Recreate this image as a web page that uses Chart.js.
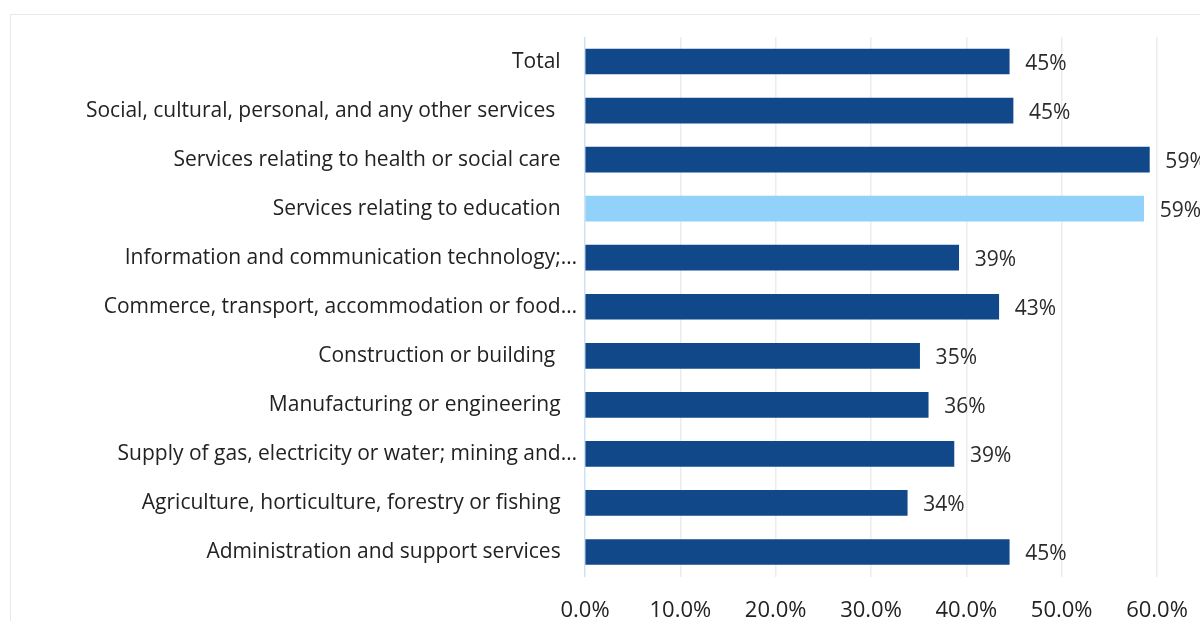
<!DOCTYPE html>
<html>
<head>
<meta charset="utf-8">
<script src="https://cdn.jsdelivr.net/npm/chart.js@4/dist/chart.umd.min.js"></script>
<style>
    html, body { margin: 0; padding: 0; background: #fff; overflow: hidden; }
    .frame {
        position: absolute;
        left: 10px;
        top: 14px;
        width: 1250px;
        height: 640px;
        border: 1px solid #e8e8e8;
        background: #fff;
    }
    .frame canvas { display: block; }
</style>
</head>
<body>
<div class="frame">
    <canvas id="sectorChart" width="1250" height="640"></canvas>
</div>
<script>
// Sectores (los rótulos largos vienen recortados con "…")
const sectores = [
    'Total',
    'Social, cultural, personal, and any other services ',
    'Services relating to health or social care',
    'Services relating to education',
    'Information and communication technology;…',
    'Commerce, transport, accommodation or food…',
    'Construction or building ',
    'Manufacturing or engineering',
    'Supply of gas, electricity or water; mining and…',
    'Agriculture, horticulture, forestry or fishing',
    'Administration and support services'
];

// Porcentaje por sector
const porcentajes = [44.5, 44.9, 59.2, 58.6, 39.2, 43.4, 35.1, 36.0, 38.7, 33.8, 44.5];

// Marcas del eje X
const ticksX = [0, 10, 20, 30, 40, 50, 60];

const azulOscuro = '#11488A';
const azulClaro = '#92D2FA';
const destacado = 3; // educación

const fuente = "'Open Sans', 'Noto Sans', sans-serif";

// Etiquetas de valor al final de cada barra
const etiquetasValor = {
    id: 'etiquetasValor',
    afterDatasetsDraw(chart) {
        const ctx = chart.ctx;
        const meta = chart.getDatasetMeta(0);
        ctx.save();
        ctx.font = '21px ' + fuente;
        ctx.fillStyle = '#2b2b2b';
        ctx.textAlign = 'left';
        ctx.textBaseline = 'middle';
        meta.data.forEach((bar, i) => {
            const v = chart.data.datasets[0].data[i];
            ctx.fillText(Math.round(v) + '%', bar.x + 16, bar.y + 2);
        });
        ctx.restore();
    }
};

const config = {
    type: 'bar',
    data: {
        labels: sectores,
        datasets: [{
            data: porcentajes,
            backgroundColor: porcentajes.map((_, i) => i === destacado ? azulClaro : azulOscuro),
            barThickness: 25
        }]
    },
    options: {
        indexAxis: 'y',
        responsive: false,
        animation: false,
        layout: { padding: { top: 22, right: 104, bottom: 0, left: 0 } },
        plugins: {
            legend: { display: false },
            tooltip: { enabled: false }
        },
        scales: {
            x: {
                min: 0,
                max: 60,
                afterBuildTicks(scale) {
                    scale.ticks = ticksX.map(v => ({ value: v }));
                },
                afterFit(scale) { scale.height = 78.5; },
                grid: {
                    color: c => c.tick && c.tick.value === 0 ? '#cfe1f7' : '#ececec',
                    lineWidth: 1.5,
                    drawTicks: false
                },
                border: { display: false },
                ticks: {
                    padding: 21,
                    color: '#222',
                    font: { family: fuente, size: 22 },
                    callback: v => v.toFixed(1) + '%'
                }
            },
            y: {
                afterFit(scale) { scale.width = 574; },
                grid: { display: false },
                border: { display: false },
                ticks: {
                    padding: 0,
                    color: '#222',
                    font: { family: fuente, size: 21 },
                    // los rótulos completos quedan más separados del eje
                    callback: function (v) {
                        const t = this.getLabelForValue(v);
                        return t.endsWith('…') ? t : t + '   ';
                    }
                }
            }
        }
    },
    plugins: [etiquetasValor]
};

const ctx = document.getElementById('sectorChart').getContext('2d');
new Chart(ctx, config);
</script>
</body>
</html>
